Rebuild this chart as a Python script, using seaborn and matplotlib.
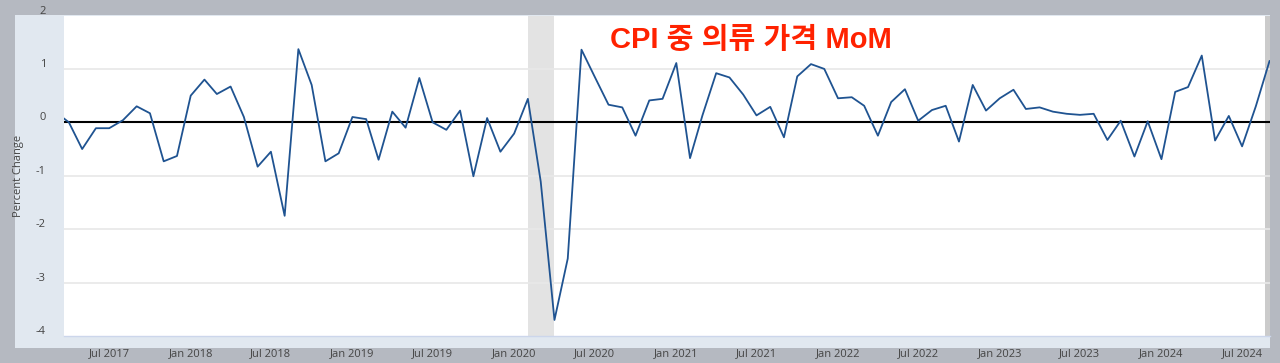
import pandas as pd
import matplotlib.pyplot as plt
import matplotlib.dates as mdates
from matplotlib.patches import Rectangle
from matplotlib.transforms import ScaledTranslation
import seaborn as sns

# monthly % change, Mar 2017 .. Sep 2024
dates = pd.date_range('2017-03-01', '2024-09-01', freq='MS')
vals_2017 = [0.20, 0.00, -0.50, -0.11, -0.11, 0.04, 0.30, 0.17, -0.73, -0.63]
vals_2018 = [0.50, 0.80, 0.53, 0.67, 0.10, -0.83, -0.55, -1.75, 1.37, 0.70, -0.73, -0.58]
vals_2019 = [0.10, 0.06, -0.70, 0.20, -0.10, 0.83, 0.00, -0.14, 0.22, -1.01, 0.08, -0.55]
vals_2020 = [-0.21, 0.44, -1.11, -3.70, -2.55, 1.36, 0.85, 0.33, 0.28, -0.25, 0.41, 0.44]
vals_2021 = [1.11, -0.67, 0.13, 0.92, 0.84, 0.52, 0.13, 0.29, -0.28, 0.86, 1.09, 1.00]
vals_2022 = [0.45, 0.47, 0.31, -0.25, 0.38, 0.62, 0.03, 0.23, 0.31, -0.36, 0.70, 0.22]
vals_2023 = [0.45, 0.61, 0.25, 0.28, 0.20, 0.16, 0.14, 0.16, -0.33, 0.03, -0.64, 0.02]
vals_2024 = [-0.69, 0.57, 0.66, 1.25, -0.34, 0.12, -0.45, 0.30, 1.15]
values = (vals_2017 + vals_2018 + vals_2019 + vals_2020 + vals_2021
          + vals_2022 + vals_2023 + vals_2024)

recession = ('2020-02-01', '2020-04-01')
y_ticks = [-4, -3, -2, -1, 0, 1, 2]
x_ticks = pd.date_range('2017-07-01', '2024-07-01', freq='6MS')
title = 'CPI 중 의류 가격 MoM'

df = pd.DataFrame({'date': dates, 'pct': values})

sns.set_style('white')
plt.rcParams['font.family'] = ['Open Sans', 'DejaVu Sans']

W, H = 1280, 363
fig = plt.figure(figsize=(W / 100, H / 100), dpi=100, facecolor='#b5b9c1')

# light panel behind the axis labels
fig.patches.append(Rectangle((15 / W, 1 - 348 / H), 1255 / W, 333 / H,
                             transform=fig.transFigure, facecolor='#e1e8f0',
                             edgecolor='none', zorder=-5))

ax = fig.add_axes([64 / W, 1 - 336 / H, (1270 - 64) / W, (336 - 15.5) / H])
ax.set_facecolor('white')

ax.axvspan(pd.Timestamp(recession[0]), pd.Timestamp(recession[1]),
           color='#e3e3e3', lw=0, zorder=0)
ax.axvspan(pd.Timestamp('2024-08-22'), pd.Timestamp('2024-09-05'),
           color='#cbcbcb', lw=0, zorder=0)

for v in [1, -1, -2, -3]:
    ax.axhline(v, color='#e8e8e8', lw=1.2, zorder=0.5)
ax.axhline(0, color='black', lw=1.5, zorder=1)

sns.lineplot(data=df, x='date', y='pct', ax=ax, color='#1f5391', lw=1.3, zorder=2)

ax.set_xlim(pd.Timestamp('2017-03-21'), pd.Timestamp('2024-09-02'))
ax.set_ylim(-4, 2)
ax.set_yticks(y_ticks)
ax.set_yticklabels([str(t) for t in y_ticks])
ax.set_xticks(x_ticks)
ax.xaxis.set_major_formatter(mdates.DateFormatter('%b %Y'))

for s in ['top', 'right', 'left']:
    ax.spines[s].set_visible(False)
ax.spines['bottom'].set_color('#ccd6eb')
ax.spines['bottom'].set_linewidth(1)

ax.tick_params(axis='x', length=3, color='#ccd6eb', pad=6, labelsize=8,
               labelcolor='#444444')
ax.tick_params(axis='y', length=0, pad=13, labelsize=8, labelcolor='#444444')
for lab in ax.get_yticklabels():
    lab.set_transform(lab.get_transform() + ScaledTranslation(0, 6 / 100, fig.dpi_scale_trans))

ax.set_xlabel('')
ax.set_ylabel('Percent Change', fontsize=8, color='#444444')
ax.yaxis.set_label_coords((24 - 64) / (1270 - 64), 0.5)

ax.text(0.5697, 0.925, title, transform=ax.transAxes, ha='center', va='center',
        fontsize=21, fontweight='bold', color='#ff2200',
        family=['Liberation Sans', 'Noto Sans CJK KR'])

fig.savefig('out.png', dpi=100, facecolor=fig.get_facecolor())
